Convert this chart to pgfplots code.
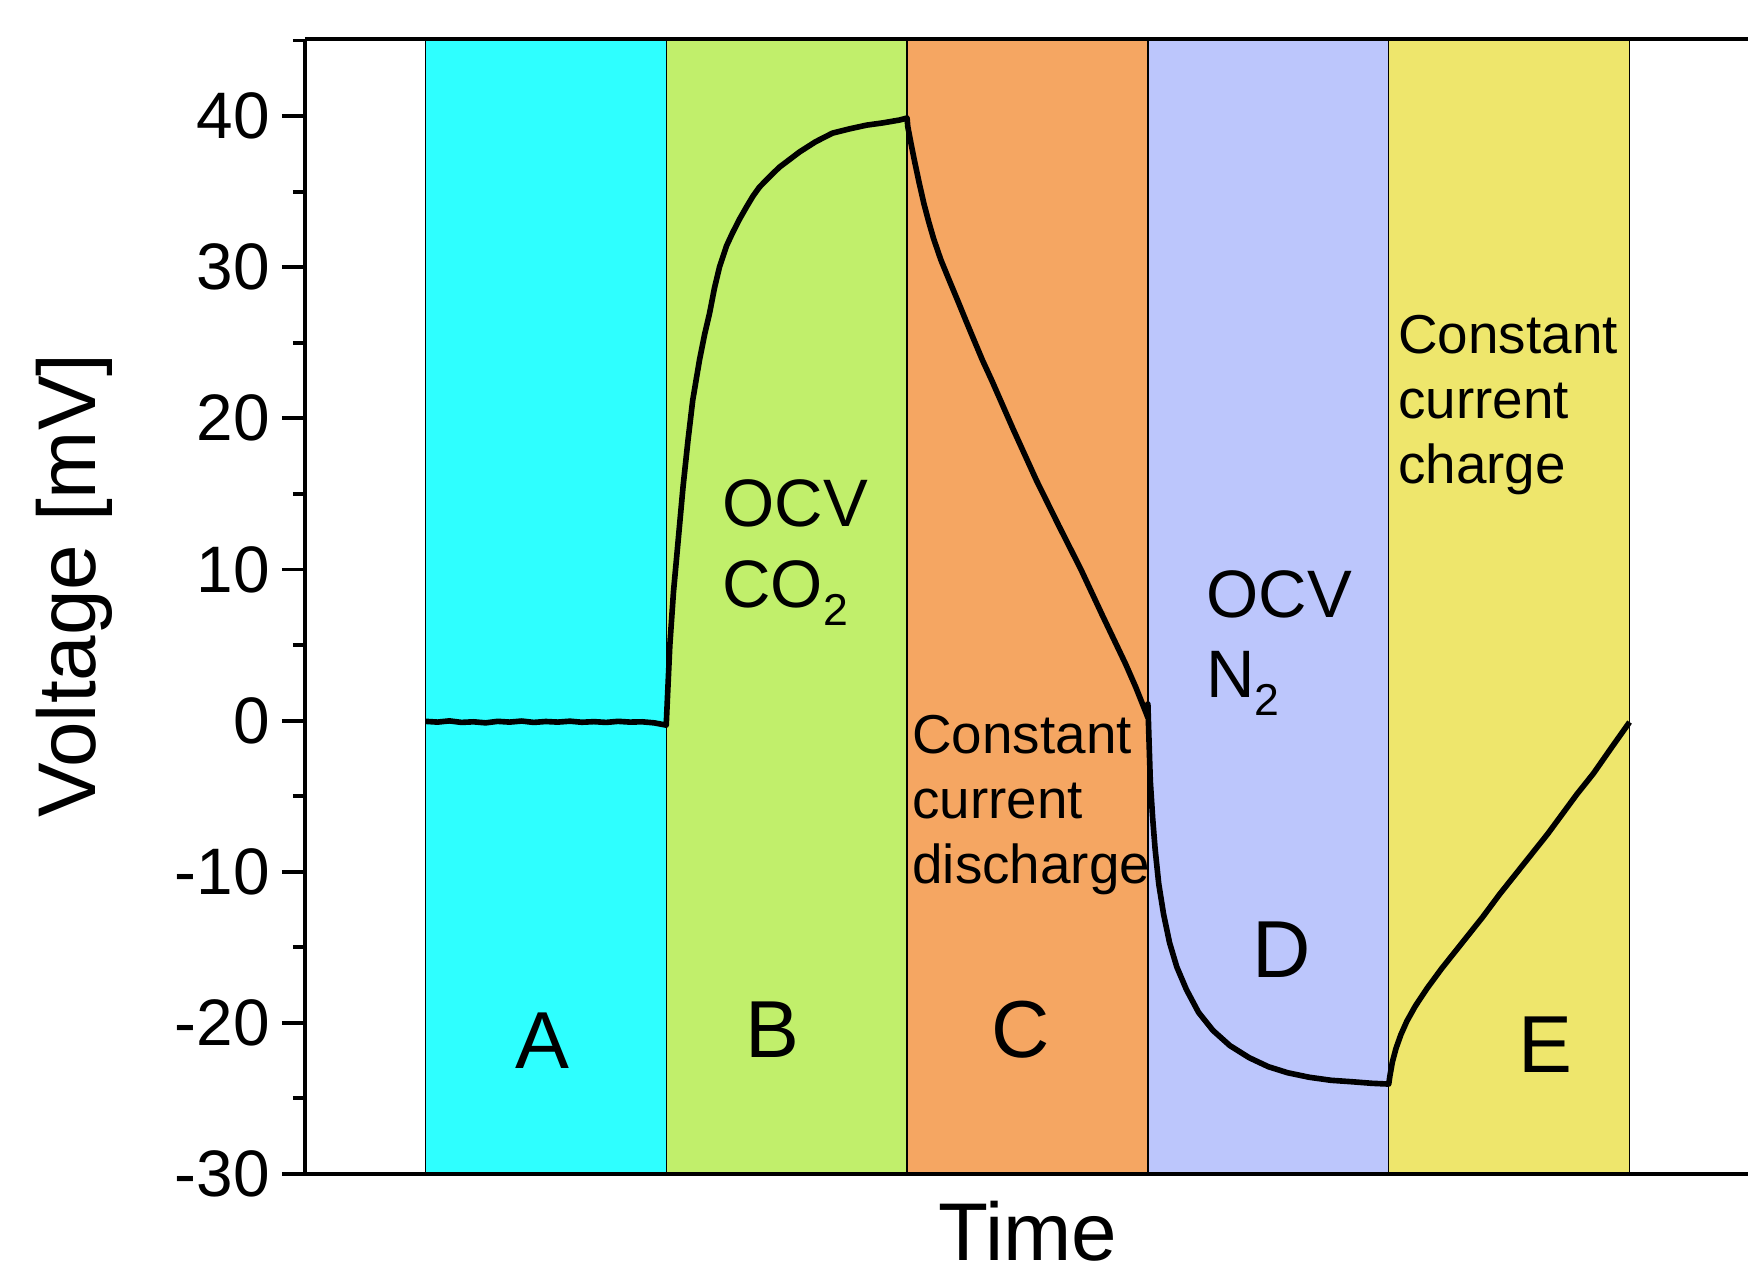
\documentclass[border=0pt]{standalone}
\usepackage{fontspec}
\setmainfont{Liberation Sans}
\usepackage{pgfplots}
\pgfplotsset{compat=1.18}
\definecolor{cA}{HTML}{2EFFFF}
\definecolor{cB}{HTML}{C1EF6B}
\definecolor{cC}{HTML}{F5A662}
\definecolor{cD}{HTML}{BCC6FC}
\definecolor{cE}{HTML}{EEE66C}
\newcommand{\sub}[1]{\raisebox{-0.27em}{\fontsize{12.7}{14}\selectfont #1}}
\begin{document}
\begin{tikzpicture}
\begin{axis}[
  scale only axis, width=144.5mm, height=113.5mm,
  xmin=-0.5, xmax=5.5, ymin=-30, ymax=45.1,
  axis x line=box, axis y line*=left,
  axis line style={line width=1.1pt, black},
  axis on top,
  xtick=\empty,
  ytick={-30,-20,...,40},
  minor ytick={-25,-15,...,45},
  tick align=outside,
  major tick length=2.3mm, minor tick length=1.2mm,
  every tick/.style={line width=1.1pt, black},
  /pgf/number format/assume math mode=true,
  yticklabel style={font=\fontsize{18.7}{20}\selectfont},
  xlabel={Time}, ylabel={Voltage [mV]},
  xlabel style={at={(axis description cs:0.5,-0.076)}, anchor=base, inner sep=0pt, font=\fontsize{23.3}{28}\selectfont},
  ylabel style={at={(axis description cs:-0.1453,0.5185)}, anchor=base, font=\fontsize{23.3}{28}\selectfont},
]
\addplot[fill=cA, draw=black, line width=0.4pt, forget plot] coordinates {(0,-31) (0,46) (1,46) (1,-31)} -- cycle;
\addplot[fill=cB, draw=black, line width=0.4pt, forget plot] coordinates {(1,-31) (1,46) (2,46) (2,-31)} -- cycle;
\addplot[fill=cC, draw=black, line width=0.4pt, forget plot] coordinates {(2,-31) (2,46) (3,46) (3,-31)} -- cycle;
\addplot[fill=cD, draw=black, line width=0.4pt, forget plot] coordinates {(3,-31) (3,46) (4,46) (4,-31)} -- cycle;
\addplot[fill=cE, draw=black, line width=0.4pt, forget plot] coordinates {(4,-31) (4,46) (5,46) (5,-31)} -- cycle;
\addplot[black, line width=1.6pt, line join=round] coordinates {
(0,-0.05)(0.05,-0.1)(0.1,-0.02)(0.15,-0.12)(0.2,-0.08)(0.25,-0.15)(0.3,-0.05)(0.35,-0.1)(0.4,-0.03)(0.45,-0.12)(0.5,-0.06)(0.55,-0.1)(0.6,-0.04)(0.65,-0.11)(0.7,-0.07)(0.75,-0.12)(0.8,-0.05)(0.85,-0.1)(0.9,-0.08)(0.95,-0.15)(1.0,-0.3)
(1.005,1.5)(1.015,5)(1.03,8.5)(1.05,12)(1.07,15.5)(1.09,18.5)(1.11,21.2)(1.138,23.85)(1.16,25.6)(1.18,26.96)(1.2,28.6)(1.221,30.0)(1.25,31.4)(1.275,32.26)(1.305,33.2)(1.333,33.98)(1.36,34.7)(1.387,35.3)(1.43,36.0)(1.47,36.62)(1.51,37.1)(1.553,37.62)(1.62,38.3)(1.69,38.87)(1.76,39.15)(1.832,39.4)(1.9,39.55)(1.969,39.74)(2.0,39.87)
(2.003,39.3)(2.015,38.3)(2.03,37.1)(2.05,35.6)(2.07,34.2)(2.09,33.0)(2.11,31.9)(2.14,30.5)(2.176,29.1)(2.21,27.8)(2.246,26.4)(2.28,25.1)(2.313,23.85)(2.352,22.5)(2.44,19.3)(2.537,15.9)(2.63,12.9)(2.722,10.0)(2.81,7.0)(2.907,3.76)(2.95,2.2)(3.0,0.2)
(3.0,1.1)(3.004,-1)(3.01,-4)(3.02,-6.5)(3.03,-8.5)(3.045,-10.8)(3.065,-12.8)(3.09,-14.7)(3.12,-16.3)(3.16,-17.8)(3.21,-19.3)(3.27,-20.5)(3.34,-21.5)(3.42,-22.3)(3.5,-22.9)(3.58,-23.3)(3.67,-23.6)(3.76,-23.8)(3.85,-23.9)(3.93,-24.0)(4.0,-24.05)
(4.005,-23.5)(4.015,-22.6)(4.03,-21.7)(4.05,-20.8)(4.075,-19.9)(4.11,-18.9)(4.16,-17.7)(4.22,-16.4)(4.27,-15.4)(4.33,-14.2)(4.39,-13.0)(4.46,-11.5)(4.53,-10.1)(4.6,-8.7)(4.66,-7.5)(4.72,-6.2)(4.78,-4.9)(4.85,-3.5)(4.92,-1.9)(5.0,-0.1)
};
\node[anchor=base, font=\fontsize{23}{26}\selectfont] at (axis cs:0.486,-23.0) {A};
\node[anchor=base, font=\fontsize{23}{26}\selectfont] at (axis cs:1.442,-22.3) {B};
\node[anchor=base, font=\fontsize{23}{26}\selectfont] at (axis cs:2.472,-22.3) {C};
\node[anchor=base, font=\fontsize{23}{26}\selectfont] at (axis cs:3.555,-16.98) {D};
\node[anchor=base, font=\fontsize{23}{26}\selectfont] at (axis cs:4.652,-23.27) {E};
\node[anchor=base west, inner sep=0pt, font=\fontsize{19.1}{22}\selectfont] at (axis cs:1.230,12.87) {OCV};
\node[anchor=base west, inner sep=0pt, font=\fontsize{19.1}{22}\selectfont] at (axis cs:1.230,7.5) {CO\sub{2}};
\node[anchor=base west, inner sep=0pt, font=\fontsize{19.1}{22}\selectfont] at (axis cs:3.240,6.84) {OCV};
\node[anchor=base west, inner sep=0pt, font=\fontsize{19.1}{22}\selectfont] at (axis cs:3.240,1.55) {N\sub{2}};
\node[anchor=base west, inner sep=0pt, font=\fontsize{15.6}{18}\selectfont] at (axis cs:2.019,-2.16) {Constant};
\node[anchor=base west, inner sep=0pt, font=\fontsize{15.6}{18}\selectfont] at (axis cs:2.019,-6.46) {current};
\node[anchor=base west, inner sep=0pt, font=\fontsize{15.6}{18}\selectfont] at (axis cs:2.019,-10.76) {discharge};
\node[anchor=base west, inner sep=0pt, font=\fontsize{15.6}{18}\selectfont] at (axis cs:4.037,24.32) {Constant};
\node[anchor=base west, inner sep=0pt, font=\fontsize{15.6}{18}\selectfont] at (axis cs:4.037,19.99) {current};
\node[anchor=base west, inner sep=0pt, font=\fontsize{15.6}{18}\selectfont] at (axis cs:4.037,15.71) {charge};
\end{axis}
\pgfresetboundingbox
\useasboundingbox (-30.5mm,-10.2mm) rectangle (144.3mm,117.4mm);
\end{tikzpicture}
\end{document}
